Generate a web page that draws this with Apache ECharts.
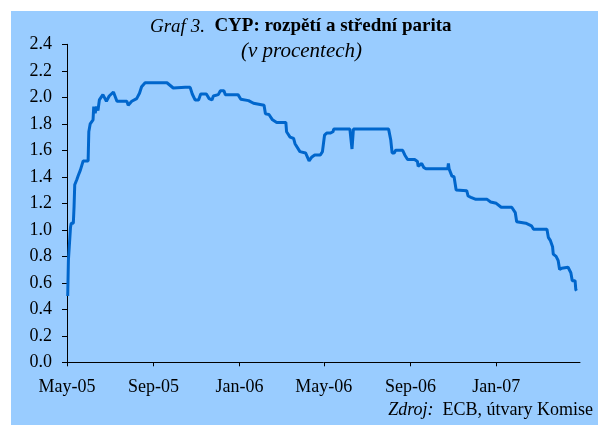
<!DOCTYPE html>
<html>
<head>
<meta charset="utf-8">
<script src="https://cdn.jsdelivr.net/npm/echarts@6/dist/echarts.min.js"></script>
<style>
  html, body { margin: 0; padding: 0; background: #fff; }
  #chart { width: 598px; height: 425px; }
</style>
</head>
<body>
<div id="chart"></div>
<script>
// day offsets counted from 1 May 2005
const dayOffsets = [
  1, 2, 5, 6, 9, 10, 11, 14, 16, 19, 23, 30, 31, 33, 37, 38, 40, 42, 44, 46,
  51, 56, 60, 66, 71, 85, 87, 92, 99, 103, 106, 111, 142, 151, 168, 175, 178, 182, 187, 190,
  198, 202, 206, 208, 215, 218, 223, 225, 243, 247, 258, 265, 280, 282, 287, 292, 298, 311, 312, 317,
  322, 324, 331, 339, 344, 348, 352, 360, 363, 366, 369, 374, 378, 379, 402, 405, 407, 457, 460, 462,
  465, 467, 477, 480, 484, 494, 498, 499, 504, 507, 510, 541, 542, 543, 547, 550, 553, 568, 570, 574,
  581, 597, 602, 610, 617, 632, 637, 639, 641, 652, 654, 660, 663, 682, 684, 687, 690, 691, 695, 698,
  700, 703, 712, 716, 718, 722, 723, 724
];
const spread = [
  0.50, 0.77, 1.02, 1.05, 1.05, 1.17, 1.34, 1.38, 1.41, 1.45, 1.52, 1.52, 1.74, 1.80, 1.83, 1.93, 1.88, 1.93, 1.90, 1.98,
  2.02, 1.97, 2.01, 2.04, 1.97, 1.97, 1.94, 1.97, 1.99, 2.03, 2.08, 2.11, 2.11, 2.07, 2.075, 2.075, 2.025, 1.98, 1.98, 2.025,
  2.025, 1.99, 1.98, 2.01, 2.02, 2.05, 2.05, 2.02, 2.02, 1.985, 1.975, 1.955, 1.94, 1.875, 1.87, 1.83, 1.81, 1.81, 1.74, 1.70,
  1.69, 1.65, 1.59, 1.58, 1.52, 1.55, 1.565, 1.565, 1.59, 1.715, 1.73, 1.73, 1.74, 1.76, 1.76, 1.61, 1.76, 1.76, 1.68, 1.58,
  1.58, 1.60, 1.60, 1.565, 1.53, 1.53, 1.515, 1.48, 1.50, 1.47, 1.46, 1.46, 1.50, 1.46, 1.405, 1.40, 1.30, 1.295, 1.255, 1.245,
  1.23, 1.23, 1.21, 1.20, 1.17, 1.17, 1.13, 1.06, 1.05, 1.05, 1.036, 1.03, 1.004, 1.004, 0.943, 0.918, 0.873, 0.817, 0.80, 0.767,
  0.70, 0.71, 0.717, 0.676, 0.616, 0.616, 0.55, 0.54
];
const tickDays = [0, 123, 245, 365, 488, 610];
const tickLabels = ['May-05', 'Sep-05', 'Jan-06', 'May-06', 'Sep-06', 'Jan-07'];

const serif = '"Liberation Serif", "Times New Roman", serif';
const myChart = echarts.init(document.getElementById('chart'));

const option = {
  animation: false,
  backgroundColor: '#fff',
  textStyle: { fontFamily: serif },
  grid: { left: 67, right: 18, top: 44.3, bottom: 62.7 },
  xAxis: {
    type: 'value',
    min: 0,
    max: 729,
    splitLine: { show: false },
    axisLine: { lineStyle: { color: '#000', width: 1 } },
    axisTick: { show: true, length: 4, customValues: tickDays, lineStyle: { color: '#000' } },
    axisLabel: {
      customValues: tickDays,
      margin: 16,
      color: '#000',
      fontSize: 18,
      fontFamily: serif,
      formatter: (v) => tickLabels[tickDays.indexOf(v)] || ''
    }
  },
  yAxis: {
    type: 'value',
    min: 0,
    max: 2.4,
    interval: 0.2,
    splitLine: { show: false },
    axisLine: { show: true, lineStyle: { color: '#000', width: 1 } },
    axisTick: { show: true, length: 5, lineStyle: { color: '#000' } },
    axisLabel: {
      margin: 15,
      color: '#000',
      fontSize: 18,
      fontFamily: serif,
      formatter: (v) => v.toFixed(1)
    }
  },
  graphic: [
    {
      type: 'rect', z: -10, silent: true,
      shape: { x: 11, y: 11, width: 587, height: 414 },
      style: { fill: '#99CCFF' }
    },
    {
      type: 'text', left: 150, top: 17,
      style: {
        text: '{i|Graf 3.}  {b|CYP: rozpětí a střední parita}',
        fontFamily: serif, fontSize: 19, fill: '#000',
        rich: {
          i: { fontStyle: 'italic', fontSize: 19, fontFamily: serif },
          b: { fontWeight: 'bold', fontSize: 19, fontFamily: serif }
        }
      }
    },
    {
      type: 'text', left: 241, top: 41,
      style: {
        text: '(v procentech)',
        fontFamily: serif, fontSize: 21, fontStyle: 'italic', fill: '#000'
      }
    },
    {
      type: 'text', right: 5, top: 401,
      style: {
        text: '{i|Zdroj:}  ECB, útvary Komise',
        fontFamily: serif, fontSize: 18, fill: '#000',
        rich: {
          i: { fontStyle: 'italic', fontSize: 18, fontFamily: serif }
        }
      }
    }
  ],
  series: [
    {
      type: 'line',
      showSymbol: false,
      data: dayOffsets.map((d, i) => [d, spread[i]]),
      lineStyle: { color: '#0066CC', width: 3 },
      itemStyle: { color: '#0066CC' }
    }
  ]
};

option && myChart.setOption(option);
</script>
</body>
</html>
